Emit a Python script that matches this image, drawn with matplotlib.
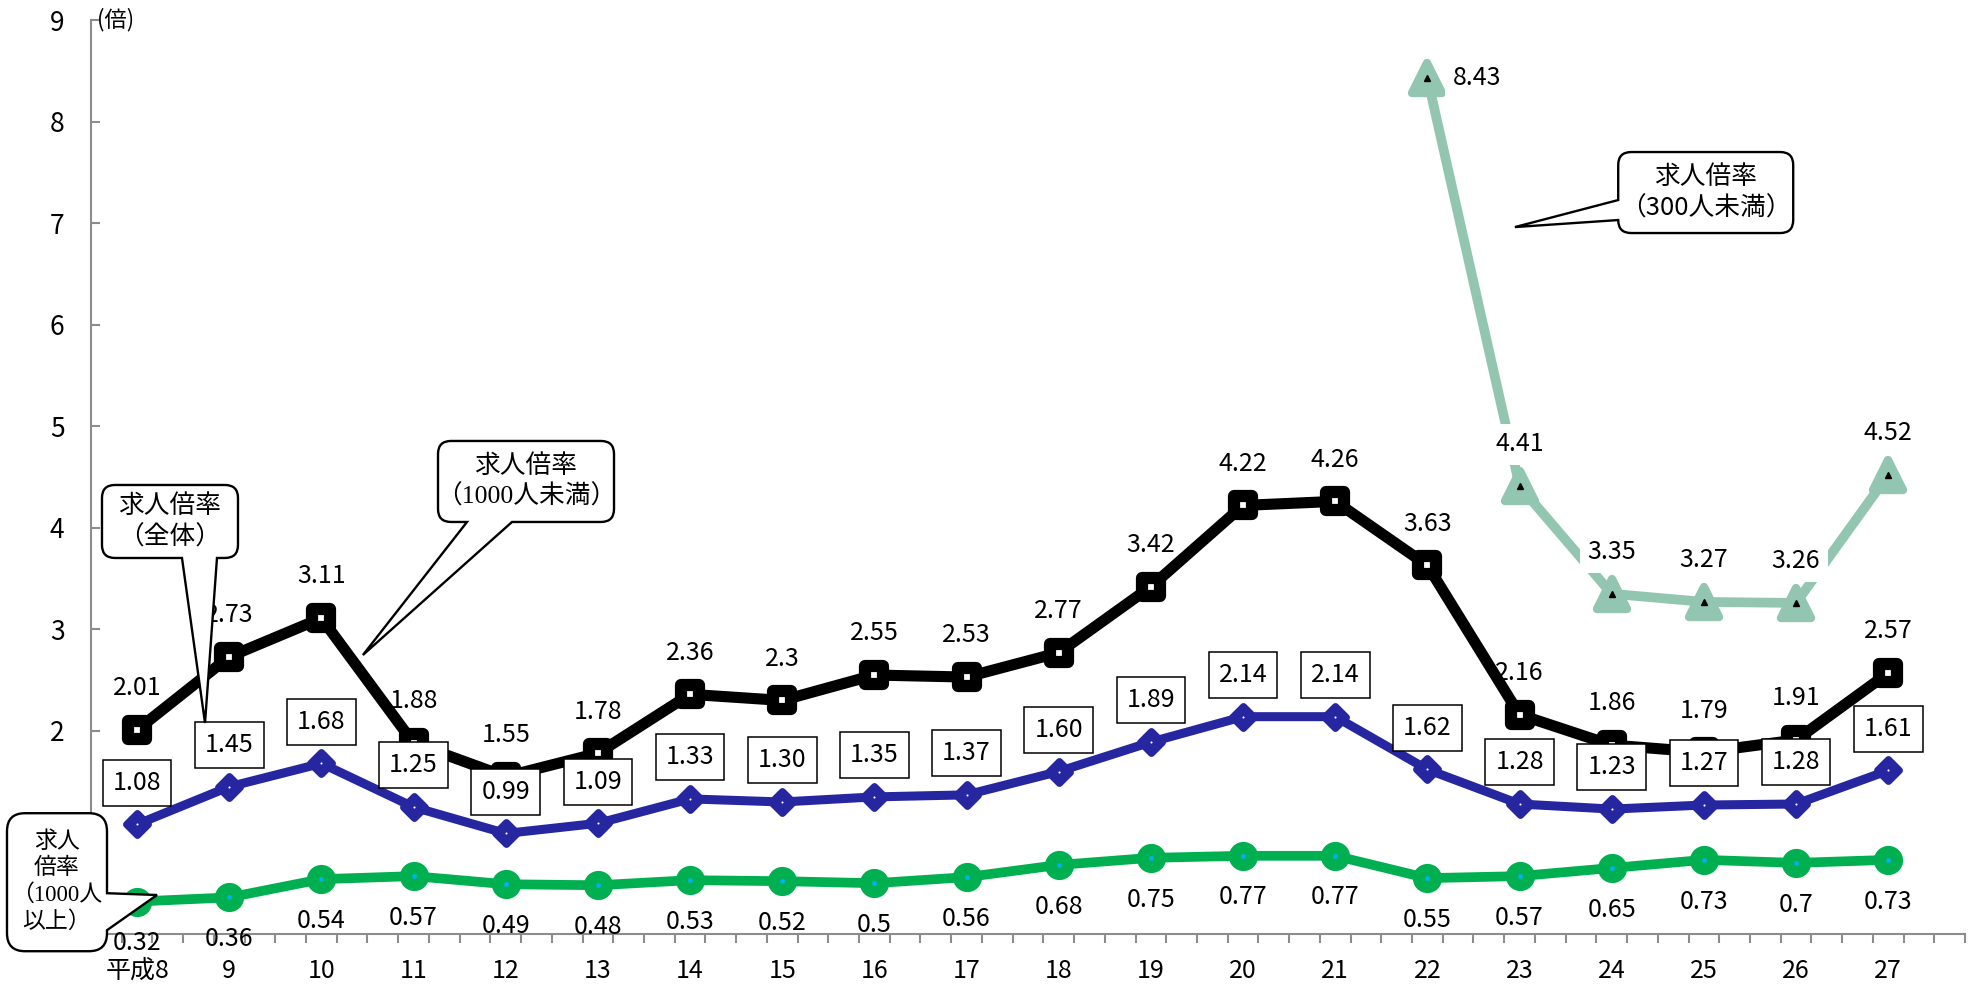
import numpy as np
import matplotlib.pyplot as plt
from matplotlib.markers import MarkerStyle
from matplotlib.path import Path
from matplotlib.patches import PathPatch
from matplotlib.transforms import IdentityTransform

plt.rcParams['font.family'] = ['Noto Sans CJK JP', 'DejaVu Sans']

# 求人倍率の推移（平成8年～27年）
years = np.arange(8, 28)
year_labels = ['平成8'] + [str(y) for y in range(9, 28)]

total = [2.01, 2.73, 3.11, 1.88, 1.55, 1.78, 2.36, 2.3, 2.55, 2.53,
         2.77, 3.42, 4.22, 4.26, 3.63, 2.16, 1.86, 1.79, 1.91, 2.57]
under_1000 = [1.08, 1.45, 1.68, 1.25, 0.99, 1.09, 1.33, 1.30, 1.35, 1.37,
              1.60, 1.89, 2.14, 2.14, 1.62, 1.28, 1.23, 1.27, 1.28, 1.61]
over_1000 = [0.32, 0.36, 0.54, 0.57, 0.49, 0.48, 0.53, 0.52, 0.5, 0.56,
             0.68, 0.75, 0.77, 0.77, 0.55, 0.57, 0.65, 0.73, 0.7, 0.73]
years_300 = np.arange(22, 28)
under_300 = [8.43, 4.41, 3.35, 3.27, 3.26, 4.52]

BLACK = '#000000'
BLUE = '#2626A0'
GREEN = '#00B050'
TEAL = '#93C6B1'
AXIS = '#8c8c8c'

fig = plt.figure(figsize=(19.76, 9.88), dpi=100)
ax = fig.add_axes([91 / 1976, 54 / 988, 1874 / 1976, 914 / 988])
ax.set_xlim(7.5, 27.5 + 1 / 3)
ax.set_ylim(0, 9)

for s in ['top', 'right']:
    ax.spines[s].set_visible(False)
for s in ['left', 'bottom']:
    ax.spines[s].set_color(AXIS)
    ax.spines[s].set_linewidth(1.5)

# 0 and 1 sit behind the left-hand bubble, so they get no label
ax.set_yticks(range(10), ['', ''] + [str(v) for v in range(2, 10)])
ax.tick_params(axis='y', direction='in', length=6.5, width=1.5, color=AXIS,
               labelsize=19, pad=19)
ax.set_xticks(years, year_labels)
ax.set_xticks(7.5 + np.arange(62) / 3, minor=True)
ax.tick_params(axis='x', which='major', length=0, pad=17, labelsize=18)
ax.tick_params(axis='x', which='minor', direction='out', length=6.5,
               width=1.5, color=AXIS)
ax.text(0.003, 1.0, '(倍)', transform=ax.transAxes, ha='left', va='center',
        fontsize=16)

# 300人未満
ax.plot(years_300, under_300, color=TEAL, lw=7, solid_joinstyle='round',
        marker=MarkerStyle('^', joinstyle='round'), ms=22, mew=6,
        mfc=TEAL, mec=TEAL, zorder=2)
ax.plot(years_300, under_300, ls='none', marker='^', ms=5, color=BLACK,
        zorder=2.1)
for x, v in zip(years_300, under_300):
    if v == max(under_300):
        off, ha = (18, 0), 'left'
    else:
        off, ha = (0, 30), 'center'
    ax.annotate(f'{v:.2f}', (x, v), xytext=off, textcoords='offset points',
                ha=ha, va='center', fontsize=18, zorder=3,
                bbox=dict(boxstyle='square,pad=0.3', fc='white', ec='none'))

# 全体
ax.plot(years, total, color=BLACK, lw=8, solid_joinstyle='round',
        marker=MarkerStyle('s', joinstyle='round'), ms=12.8, mew=8.8,
        mfc='white', mec=BLACK, zorder=4)
for x, v in zip(years, total):
    ax.annotate(f'{v:g}', (x, v), xytext=(0, 30), textcoords='offset points',
                ha='center', va='center', fontsize=18, zorder=3.5)

# 1000人未満
ax.plot(years, under_1000, color=BLUE, lw=6.5, solid_joinstyle='round',
        marker=MarkerStyle('D', joinstyle='round'), ms=11, mew=5,
        mfc=BLUE, mec=BLUE, zorder=5)
ax.plot(years, under_1000, ls='none', marker='o', ms=1.5, mew=0,
        color='white', zorder=5.1)
for x, v in zip(years, under_1000):
    ax.annotate(f'{v:.2f}', (x, v), xytext=(0, 30), textcoords='offset points',
                ha='center', va='center', fontsize=18, zorder=6,
                bbox=dict(boxstyle='square,pad=0.4', fc='white', ec=BLACK,
                          lw=1.1))

# 1000人以上
ax.plot(years, over_1000, color=GREEN, lw=7, marker='o', ms=17, mew=4,
        mfc=GREEN, mec=GREEN, zorder=5)
ax.plot(years, over_1000, ls='none', marker='o', ms=3.5, mew=0,
        color='#00B0F0', zorder=5.1)
for x, v in zip(years, over_1000):
    ax.annotate(f'{v:g}', (x, v), xytext=(0, -30), textcoords='offset points',
                ha='center', va='center', fontsize=18, zorder=6)


def callout(center, size, side, base, tip, text, r=13, fontsize=18.5,
            family=None):
    """Rounded speech bubble; size/base in pixels, center/tip in data."""
    cx, cy = ax.transData.transform(center)
    tx, ty = ax.transData.transform(tip)
    w, h = size
    x0, x1, y0, y1 = cx - w / 2, cx + w / 2, cy - h / 2, cy + h / 2
    verts = [(x0 + r, y0)]
    codes = [Path.MOVETO]

    def line(p):
        verts.append(p)
        codes.append(Path.LINETO)

    def corner(c, e):
        verts.extend([c, e])
        codes.extend([Path.CURVE3, Path.CURVE3])

    if side == 'bottom':
        line((x0 + base[0], y0)); line((tx, ty)); line((x0 + base[1], y0))
    line((x1 - r, y0)); corner((x1, y0), (x1, y0 + r))
    if side == 'right':
        line((x1, y1 - base[1])); line((tx, ty)); line((x1, y1 - base[0]))
    line((x1, y1 - r)); corner((x1, y1), (x1 - r, y1))
    line((x0 + r, y1)); corner((x0, y1), (x0, y1 - r))
    if side == 'left':
        line((x0, y1 - base[0])); line((tx, ty)); line((x0, y1 - base[1]))
    line((x0, y0 + r)); corner((x0, y0), (x0 + r, y0))
    verts.append((x0 + r, y0))
    codes.append(Path.CLOSEPOLY)
    patch = PathPatch(Path(verts, codes), fc='white', ec=BLACK, lw=1.7,
                      transform=IdentityTransform(), zorder=10, clip_on=False)
    ax.add_artist(patch)
    kw = {} if family is None else {'family': family}
    ax.text(center[0], center[1], text, ha='center', va='center',
            multialignment='center', linespacing=1.3, fontsize=fontsize,
            zorder=11, clip_on=False, **kw)


serif = ['Liberation Serif', 'Noto Sans CJK JP']
callout((8.357, 4.062), (136, 73), 'bottom', (80, 115), (8.737, 2.078),
        '求人倍率\n（全体）')
callout((12.22, 4.456), (176, 81), 'bottom', (29, 74), (10.45, 2.747),
        '求人倍率\n（1000人未満）', family=serif)
callout((25.02, 7.301), (175, 81), 'left', (48, 68), (22.95, 6.961),
        '求人倍率\n（300人未満）')
callout((7.131, 0.51), (100, 138), 'right', (80, 117), (8.216, 0.384),
        '求人\n倍率\n（1000人\n以上）', r=18, fontsize=16.5, family=serif)

fig.savefig('out.png', dpi=100)
